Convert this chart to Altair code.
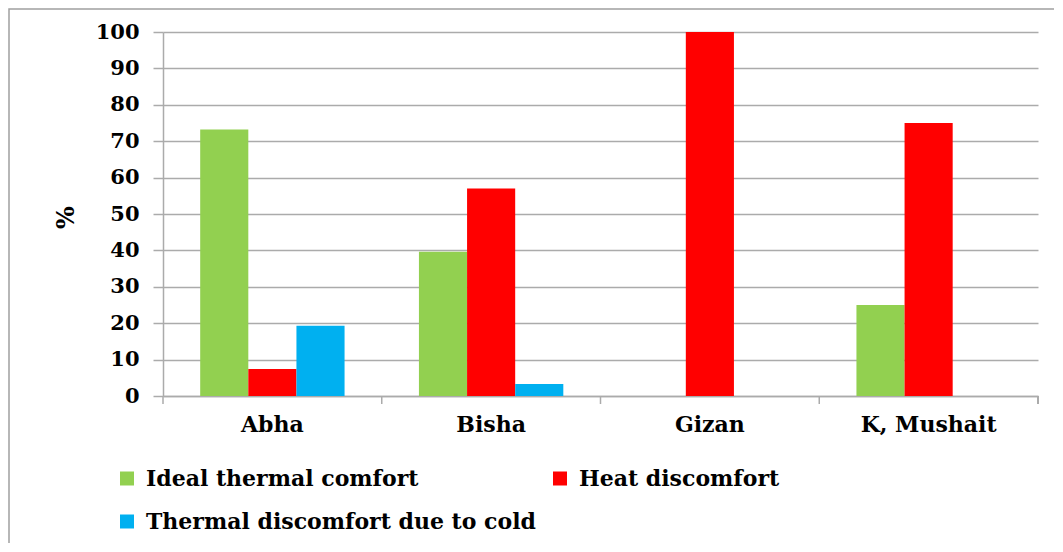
import altair as alt
import pandas as pd

cities = ["Abha", "Bisha", "Gizan", "K, Mushait"]
series = ["Ideal thermal comfort", "Heat discomfort", "Thermal discomfort due to cold"]
ideal = [73.2, 39.6, 0, 25]
heat = [7.4, 57, 100, 75]
cold = [19.3, 3.3, 0, 0]
colors = ["#92D050", "#FF0000", "#00B0F0"]
y_ticks = list(range(0, 101, 10))

rows = []
for i, c in enumerate(cities):
    for s, vals in zip(series, [ideal, heat, cold]):
        rows.append({"city": c, "series": s, "value": vals[i]})
df = pd.DataFrame(rows)

W, H = 875, 364
FONT = "DejaVu Serif"
GRAY = "#ababab"

bars = alt.Chart(df).mark_bar().encode(
    x=alt.X(
        "city:N", sort=cities, title=None,
        scale=alt.Scale(paddingInner=0.34, paddingOuter=0.17),
        axis=alt.Axis(labelAngle=0, ticks=False, grid=False, domainColor=GRAY, domainWidth=1.5,
                      labelFont=FONT, labelFontSize=22, labelFontWeight="bold", labelColor="black",
                      labelPadding=18),
    ),
    xOffset=alt.XOffset("series:N", sort=series),
    y=alt.Y(
        "value:Q", scale=alt.Scale(domain=[0, 100], nice=False), title="%",
        axis=alt.Axis(values=y_ticks, tickSize=10, tickColor=GRAY, tickWidth=1.5,
                      domainColor=GRAY, domainWidth=1.5, gridColor=GRAY, gridWidth=1.5,
                      labelFont=FONT, labelFontSize=21, labelFontWeight="bold", labelColor="black",
                      labelPadding=14, titleFont=FONT, titleFontSize=24, titleFontWeight="bold",
                      titleColor="black", titleX=-97, titleY=H / 2 + 3, titleAngle=270,
                      titleAlign="center", titleBaseline="middle"),
    ),
    color=alt.Color(
        "series:N", sort=series, scale=alt.Scale(domain=series, range=colors),
        legend=alt.Legend(orient="none", legendX=-47, legendY=435.5, columns=2, direction="horizontal",
                          title=None, symbolType="square", symbolSize=196, symbolStrokeWidth=0,
                          labelFont=FONT, labelFontSize=22, labelFontWeight="bold",
                          labelColor="black", labelLimit=600, labelOffset=8,
                          rowPadding=21, columnPadding=13, padding=0),
    ),
)

tick_df = pd.DataFrame({"city": cities})
tick_rules = alt.Chart(tick_df).mark_rule(color=GRAY, strokeWidth=1.5).encode(
    x=alt.X("city:N", sort=cities, bandPosition=0,
            scale=alt.Scale(paddingInner=0, paddingOuter=0), axis=None),
    y=alt.value(H), y2=alt.value(H + 8),
)
end_rule = alt.Chart(tick_df).mark_rule(color=GRAY, strokeWidth=1.5).encode(
    x=alt.value(W), y=alt.value(H), y2=alt.value(H + 8),
)
border = alt.Chart(pd.DataFrame({"a": [0]})).mark_rect(
    fillOpacity=0, stroke="#a0a0a0", strokeWidth=1.5, clip=False
).encode(
    x=alt.value(-154), x2=alt.value(W + 200), y=alt.value(-23), y2=alt.value(H + 300),
)

chart = alt.layer(border, bars, tick_rules, end_rule).resolve_scale(x="independent").properties(
    width=W, height=H,
    padding={"left": 155, "top": 24, "right": 16, "bottom": 147},
    autosize="none",
    background="white",
).configure_view(stroke=None)

chart.save("out.html", embed_options={"renderer": "svg", "actions": False})
